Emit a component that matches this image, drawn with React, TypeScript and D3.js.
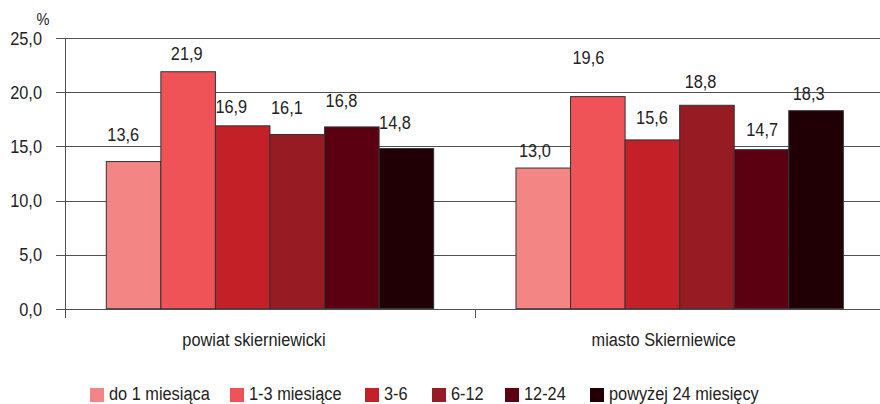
import React from "react";
import * as d3 from "d3";

const categories = ["powiat skierniewicki", "miasto Skierniewice"];
const seriesNames = ["do 1 miesiąca", "1-3 miesiące", "3-6", "6-12", "12-24", "powyżej 24 miesięcy"];
const valuesPowiat = [13.6, 21.9, 16.9, 16.1, 16.8, 14.8];
const valuesMiasto = [13.0, 19.6, 15.6, 18.8, 14.7, 18.3];
const yTicks = [0, 5, 10, 15, 20, 25];
const colors = ["#F38584", "#EF5357", "#C42027", "#961B22", "#5A0011", "#200005"];

// layout constants (label offsets relative to bar left edge / bar top)
const labelDxPowiat = [1, 10, 0, 1, 1, 0];
const labelDxMiasto = [3, 2, 11, 5, 12, 4];
const labelGapPowiat = [21, 12, 13, 20, 20, 20];
const labelGapMiasto = [11, 33, 16, 17, 14, 11];
const legendX = [90, 230, 365, 432, 505, 590];

const W = 880;
const H = 404;
const FONT = "'Liberation Sans', Arial, sans-serif";
const SX = 0.86;

function NText({
  x,
  y,
  size = 19,
  anchor = "start",
  dy,
  children,
}: {
  x: number;
  y: number;
  size?: number;
  anchor?: "start" | "middle" | "end";
  dy?: string;
  children: React.ReactNode;
}) {
  return (
    <g transform={`translate(${x},${y}) scale(${SX},1)`}>
      <text x={0} y={0} dy={dy} textAnchor={anchor} fontSize={size} fill="#222" fontFamily={FONT}>
        {children}
      </text>
    </g>
  );
}

export default function App() {
  const data = [valuesPowiat, valuesMiasto];
  const dxs = [labelDxPowiat, labelDxMiasto];
  const gaps = [labelGapPowiat, labelGapMiasto];
  const y = d3.scaleLinear().domain([0, 25]).range([308.7, 38.2]);
  const x0 = d3.scaleBand<string>().domain(categories).range([65.15, 884.5]).padding(0);
  const x1 = d3
    .scaleBand<string>()
    .domain(seriesNames)
    .range([41.15, x0.bandwidth() - 41.15])
    .padding(0);
  const fmt = (v: number) => d3.format(".1f")(v).replace(".", ",");
  const py = (v: number) => Math.round(y(v)) + 0.5;

  return (
    <svg
      width={W}
      height={H}
      style={{ position: "absolute", left: 0, top: 0, display: "block" }}
      fontFamily={FONT}
    >
      <rect width={W} height={H} fill="#fff" />
      {yTicks.map((t) => (
        <line key={"g" + t} x1={56} x2={W} y1={py(t)} y2={py(t)} stroke="#505050" strokeWidth={1} />
      ))}
      <line x1={65.5} x2={65.5} y1={py(25)} y2={318} stroke="#505050" strokeWidth={1} />
      {categories.slice(1).map((c) => (
        <line
          key={"ct" + c}
          x1={Math.round(x0(c)!) + 0.5}
          x2={Math.round(x0(c)!) + 0.5}
          y1={py(0)}
          y2={318}
          stroke="#505050"
        />
      ))}
      {yTicks.map((t) => (
        <NText key={"t" + t} x={42} y={y(t)} dy="0.36em" anchor="end">
          {fmt(t)}
        </NText>
      ))}
      <NText x={43} y={25} size={17} anchor="middle">%</NText>
      {categories.map((c, ci) => (
        <g key={c} transform={`translate(${x0(c)},0)`}>
          {seriesNames.map((s, si) => {
            const v = data[ci][si];
            const bx = x1(s)!;
            return (
              <rect
                key={s}
                x={bx}
                y={y(v)}
                width={x1.bandwidth()}
                height={y(0) - y(v)}
                fill={colors[si]}
                stroke="#333"
                strokeWidth={1}
              />
            );
          })}
          {seriesNames.map((s, si) => {
            const v = data[ci][si];
            const bx = x1(s)!;
            return (
              <NText key={"v" + s} x={bx + dxs[ci][si]} y={y(v) - gaps[ci][si]}>
                {fmt(v)}
              </NText>
            );
          })}
          <NText x={x0.bandwidth() / 2 - 16} y={346} anchor="middle">
            {c}
          </NText>
        </g>
      ))}
      {seriesNames.map((s, i) => (
        <g key={"l" + s}>
          <rect x={legendX[i]} y={388} width={14} height={14} fill={colors[i]} />
          <NText x={legendX[i] + 19} y={400}>
            {s}
          </NText>
        </g>
      ))}
    </svg>
  );
}
